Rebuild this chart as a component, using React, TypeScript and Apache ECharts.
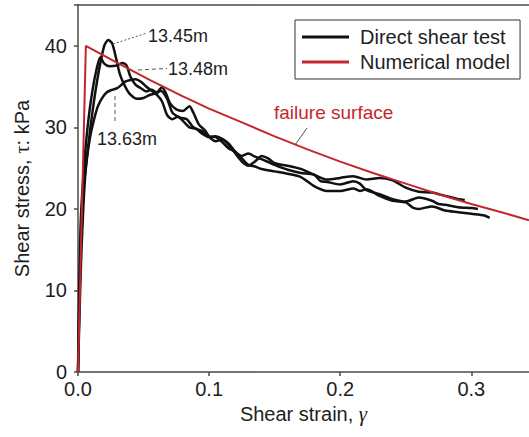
import React, { useEffect, useRef } from "react";
import * as echarts from "echarts";

// Direct shear test curves (shear strain, shear stress in kPa)
const strainA = [0, 0.002, 0.004, 0.008, 0.012, 0.016, 0.02, 0.023, 0.026, 0.029, 0.032, 0.036, 0.04, 0.045, 0.05, 0.055, 0.06, 0.063, 0.068, 0.072, 0.078, 0.083, 0.088, 0.095, 0.1, 0.105, 0.11, 0.115, 0.12, 0.125, 0.13, 0.135, 0.14, 0.145, 0.15, 0.16, 0.17, 0.18, 0.19, 0.2, 0.21, 0.22, 0.23, 0.24, 0.25, 0.26, 0.27, 0.28, 0.29, 0.295];
const stressA = [0, 15, 22, 28, 33, 37, 40, 40.7, 40.3, 38.5, 36.5, 35, 34, 33.5, 33.6, 34.0, 34.2, 34.5, 33.5, 31.8, 31.2, 31.0, 30.0, 29.5, 28.8, 28.3, 28.5, 27.8, 26.8, 25.8, 25.3, 25.8, 26.5, 26.2, 25.6, 25.3, 24.9, 24.2, 23.6, 23.8, 24.0, 23.6, 23.8, 23.5, 22.6, 22.1, 22.0, 21.6, 21.2, 21.1];

const strainB = [0, 0.002, 0.005, 0.008, 0.011, 0.014, 0.017, 0.02, 0.024, 0.03, 0.034, 0.037, 0.04, 0.044, 0.048, 0.052, 0.056, 0.06, 0.064, 0.067, 0.07, 0.075, 0.08, 0.085, 0.088, 0.092, 0.097, 0.1, 0.105, 0.11, 0.115, 0.12, 0.125, 0.13, 0.135, 0.14, 0.15, 0.16, 0.17, 0.18, 0.19, 0.2, 0.21, 0.215, 0.22, 0.23, 0.24, 0.25, 0.255, 0.26, 0.27, 0.28, 0.29, 0.3, 0.31, 0.314];
const stressB = [0, 18, 26, 31, 34.5, 37, 38.6, 37.8, 37.5, 37.6, 37.9, 37.6, 36.2, 35.2, 34.8, 34.4, 34.6, 34.3, 34.9, 34.2, 33.0, 32.2, 32.0, 32.6, 31.8, 30.4, 29.6, 28.9, 28.8, 28.2, 27.4, 27.0, 26.2, 25.4, 25.2, 24.9, 24.6, 24.3, 23.9, 22.8, 22.2, 22.2, 22.5, 22.2, 22.4, 21.6, 21.0, 20.8, 20.2, 20.0, 20.3, 19.8, 19.6, 19.4, 19.2, 18.9];

const strainC = [0, 0.002, 0.004, 0.006, 0.009, 0.012, 0.015, 0.018, 0.022, 0.026, 0.03, 0.033, 0.036, 0.04, 0.044, 0.048, 0.052, 0.056, 0.06, 0.064, 0.068, 0.072, 0.076, 0.08, 0.085, 0.09, 0.095, 0.1, 0.105, 0.11, 0.115, 0.12, 0.125, 0.13, 0.135, 0.14, 0.15, 0.16, 0.17, 0.18, 0.185, 0.19, 0.2, 0.21, 0.215, 0.22, 0.23, 0.24, 0.25, 0.26, 0.27, 0.275, 0.28, 0.29, 0.3, 0.305];
const stressC = [0, 12, 20, 25, 28.6, 30.8, 32.5, 33.5, 34.3, 34.6, 34.8, 35.2, 35.6, 35.8, 35.9, 35.6, 35.0, 34.5, 34.0, 33.2, 31.5, 31.0, 31.3, 30.8, 30.0, 29.8, 29.2, 28.8, 28.9, 28.6, 28.0, 27.0, 26.5, 26.8, 26.4, 26.1, 25.4, 24.8, 24.4, 24.2, 23.4, 23.3, 23.0, 23.4, 23.1, 22.3, 21.8, 21.2, 20.9, 21.4, 21.0, 20.6, 20.5, 20.2, 20.1, 20.0];

// Numerical model
const strainModel = [0, 0.006, 0.03, 0.055, 0.08, 0.1, 0.125, 0.15, 0.175, 0.2, 0.225, 0.25, 0.275, 0.3, 0.325, 0.344];
const stressModel = [0, 40, 37.9, 35.8, 33.8, 32.3, 30.6, 28.9, 27.3, 25.8, 24.4, 23.1, 21.8, 20.6, 19.5, 18.6];

const xTicks = [0, 0.1, 0.2, 0.3];
const yTicks = [0, 10, 20, 30, 40];

const pairs = (xs: number[], ys: number[]) => xs.map((x, i) => [x, ys[i]]);

const FONT = "Liberation Sans, Arial, sans-serif";
const RED = "#c4262e";
const TXT = "#1e1e1e";
const AX = "#4a4a4a";

export default function App() {
  const ref = useRef<HTMLDivElement>(null);
  useEffect(() => {
    if (!ref.current) return;
    const chart = echarts.init(ref.current, undefined, { renderer: "svg" });
    const black = (xs: number[], ys: number[]) => ({
      type: "line",
      name: "Direct shear test",
      data: pairs(xs, ys),
      showSymbol: false,
      smooth: 0.25,
      lineStyle: { color: "#111", width: 2.5 },
      itemStyle: { color: "#111" },
      z: 3,
    });
    const leader = (x1: number, y1: number, x2: number, y2: number, dash: number[]) => ({
      type: "line",
      shape: { x1, y1, x2, y2 },
      style: { stroke: "#555", lineWidth: 1, lineDash: dash },
      z: 10,
    });
    const label = (text: string, x: number, y: number, color = TXT, size = 18) => ({
      type: "text",
      x,
      y,
      style: { text, fill: color, font: `${size}px ${FONT}`, textVerticalAlign: "middle" },
      z: 10,
    });
    chart.setOption({
      animation: false,
      grid: { left: 78, right: 0, top: 5, bottom: 65 },
      legend: {
        left: 295,
        top: 20,
        orient: "vertical",
        data: ["Direct shear test", "Numerical model"],
        icon: "rect",
        itemWidth: 47,
        itemHeight: 3,
        itemGap: 5,
        padding: [7, 10, 7, 7],
        borderColor: "#333",
        borderWidth: 1,
        textStyle: { fontSize: 20, fontFamily: FONT, color: TXT, lineHeight: 20, padding: [0, 0, 0, 6] },
      },
      xAxis: [
        {
          type: "value",
          min: 0,
          max: 0.344,
          interval: 0.1,
          name: "Shear strain, {g|γ}",
          nameLocation: "middle",
          nameGap: 30,
          nameTextStyle: {
            fontSize: 20,
            fontFamily: FONT,
            color: TXT,
            rich: { g: { fontSize: 21, fontFamily: "Liberation Serif, serif", fontStyle: "italic", color: TXT } },
          },
          axisLine: { show: true, lineStyle: { color: AX, width: 1.5 } },
          axisTick: { show: true, length: 4, lineStyle: { color: AX, width: 1.5 } },
          axisLabel: {
            fontSize: 20,
            fontFamily: FONT,
            color: TXT,
            margin: 7,
            showMaxLabel: false,
            formatter: (v: number) => (xTicks.some((t) => Math.abs(t - v) < 1e-9) ? v.toFixed(1) : ""),
          },
          splitLine: { show: false },
        },
        {
          type: "value",
          position: "top",
          min: 0,
          max: 0.344,
          axisLine: { show: true, lineStyle: { color: AX, width: 1.5 } },
          axisTick: { show: false },
          axisLabel: { show: false },
          splitLine: { show: false },
        },
      ],
      yAxis: {
        type: "value",
        min: 0,
        max: 45,
        interval: 10,
        name: "Shear stress, {g|τ}: kPa",
        nameLocation: "middle",
        nameGap: 46,
        nameTextStyle: {
          fontSize: 20,
          fontFamily: FONT,
          color: TXT,
          rich: { g: { fontSize: 21, fontFamily: "Liberation Serif, serif", color: TXT } },
        },
        axisLine: { show: true, lineStyle: { color: AX, width: 1.5 } },
        axisTick: { show: true, length: 4, lineStyle: { color: AX, width: 1.5 } },
        axisLabel: {
          fontSize: 20,
          fontFamily: FONT,
          color: TXT,
          margin: 11,
          formatter: (v: number) => (yTicks.includes(v) ? String(v) : ""),
        },
        splitLine: { show: false },
      },
      series: [
        black(strainA, stressA),
        black(strainB, stressB),
        black(strainC, stressC),
        {
          type: "line",
          name: "Numerical model",
          data: pairs(strainModel, stressModel),
          showSymbol: false,
          smooth: false,
          lineStyle: { color: RED, width: 2 },
          itemStyle: { color: RED },
          z: 4,
        },
      ],
      graphic: [
        leader(113, 44, 147, 33, [2, 2]),
        label("13.45m", 148, 36),
        leader(138, 70, 167, 68.5, [4, 3]),
        label("13.48m", 168, 69),
        leader(115, 96, 115, 124, [4, 3]),
        label("13.63m", 97, 139),
        leader(307, 128, 295, 145, []),
        label("failure surface", 274, 112.5, RED, 19),
      ],
    });
    return () => chart.dispose();
  }, []);
  return <div ref={ref} style={{ position: "absolute", left: 0, top: 0, width: 529, height: 437 }} />;
}
